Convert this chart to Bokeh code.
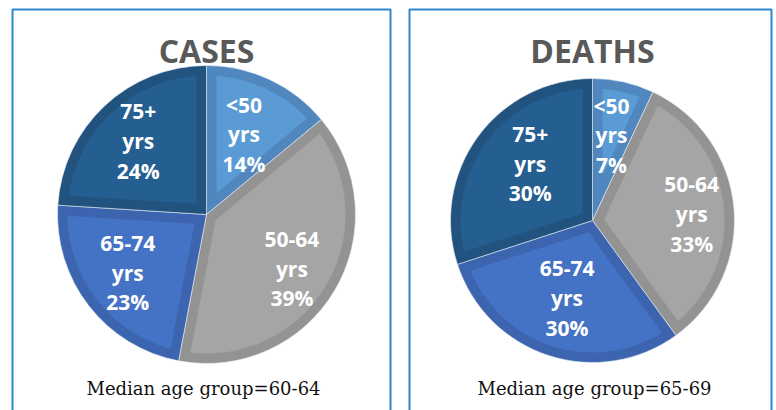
import math
from bokeh.plotting import figure
from bokeh.models import Range1d
from bokeh.core.properties import value
from bokeh.embed import file_html
from bokeh.resources import INLINE

# ---------------- data ----------------
categories = ["<50", "50-64", "65-74", "75+"]
unit_label = "yrs"
cases_pct = [14, 39, 23, 24]
deaths_pct = [7, 33, 30, 30]
titles = ["CASES", "DEATHS"]
median_groups = ["60-64", "65-69"]

# ---------------- styles ----------------
fill_colors = ["#5B9BD5", "#A5A5A5", "#4472C4", "#255E91"]
edge_colors = ["#4F87BE", "#939393", "#3C64AF", "#22537F"]
BORDER_BLUE = "#2E86CB"

W, H = 776, 410


def sy(screen_y):
    # convert a picture y (pixels from top) to data y
    return H - screen_y


p = figure(width=W, height=H, x_range=Range1d(0, W), y_range=Range1d(0, H),
           output_backend="svg", toolbar_location=None, min_border=0,
           background_fill_color="white", border_fill_color="white")
p.outline_line_color = None
p.axis.visible = False
p.grid.visible = False

panels = [
    dict(l=12, r=390, t=9, cx=206, cy=214, R=149,
         lr=[0.59, 0.68, 0.66, 0.67], da=[0, -2, -1, 0], tx=206, mx=203),
    dict(l=409, r=771, t=9, cx=592, cy=220, R=142,
         lr=[0.61, 0.70, 0.58, 0.59], da=[0, -2, 0, -6], tx=592, mx=594),
]
series = [cases_pct, deaths_pct]

B = 10  # inner border thickness

for panel, pct, title, med in zip(panels, series, titles, median_groups):
    p.quad(left=[panel["l"]], right=[panel["r"]], top=[sy(panel["t"])], bottom=[-30],
           fill_color="white", line_color=BORDER_BLUE, line_width=2)

    cx, cy, R = panel["cx"], sy(panel["cy"]), panel["R"]
    total = float(sum(pct))
    cum = 0.0
    starts, ends = [], []
    for v in pct:
        a1 = math.pi / 2 - 2 * math.pi * cum / total
        cum += v
        a2 = math.pi / 2 - 2 * math.pi * cum / total
        starts.append(a1)
        ends.append(a2)

    p.wedge(x=[cx] * len(pct), y=[cy] * len(pct), radius=R,
            start_angle=starts, end_angle=ends, direction="clock",
            fill_color=edge_colors, line_color="#E8EEF6", line_width=0.6)

    xs, ys = [], []
    Ri = R - B
    for a1, a2 in zip(starts, ends):
        span = a1 - a2
        d = math.asin(B / Ri)
        apex_d = B / math.sin(span / 2)
        am = (a1 + a2) / 2
        px = [cx + apex_d * math.cos(am)]
        py = [cy + apex_d * math.sin(am)]
        n = 60
        for k in range(n + 1):
            a = (a1 - d) + ((a2 + d) - (a1 - d)) * k / n
            px.append(cx + Ri * math.cos(a))
            py.append(cy + Ri * math.sin(a))
        xs.append(px)
        ys.append(py)
    p.patches(xs=xs, ys=ys, fill_color=fill_colors, line_color=None)

    # labels
    lx, ly = [], []
    for a1, a2, f, da in zip(starts, ends, panel["lr"], panel["da"]):
        am = (a1 + a2) / 2 + math.radians(da)
        lx.append(cx + f * R * math.cos(am))
        ly.append(cy + f * R * math.sin(am))
    lines = [categories, [unit_label] * len(pct), ["%d%%" % v for v in pct]]
    for i, txt in enumerate(lines):
        off = (i - 1) * 29.5
        p.text(x=lx, y=[y - off + 0.5 for y in ly], text=txt,
               text_font=value("Open Sans"), text_font_style="bold",
               text_font_size="21px", text_color="white",
               text_align="center", text_baseline="alphabetic")

    # title
    p.text(x=[panel["tx"]], y=[sy(50)], text=[title],
           text_font=value("Open Sans"), text_font_style="bold",
           text_font_size="32px", text_color="#595959",
           text_align="center", text_baseline="alphabetic")

    # median text
    p.text(x=[panel["mx"]], y=[sy(388)], text=["Median age group=" + med],
           text_font=value("DejaVu Serif"), text_font_size="18px",
           text_color="#111111", text_align="center", text_baseline="alphabetic")

open("out.html", "w").write(file_html(p, INLINE))
